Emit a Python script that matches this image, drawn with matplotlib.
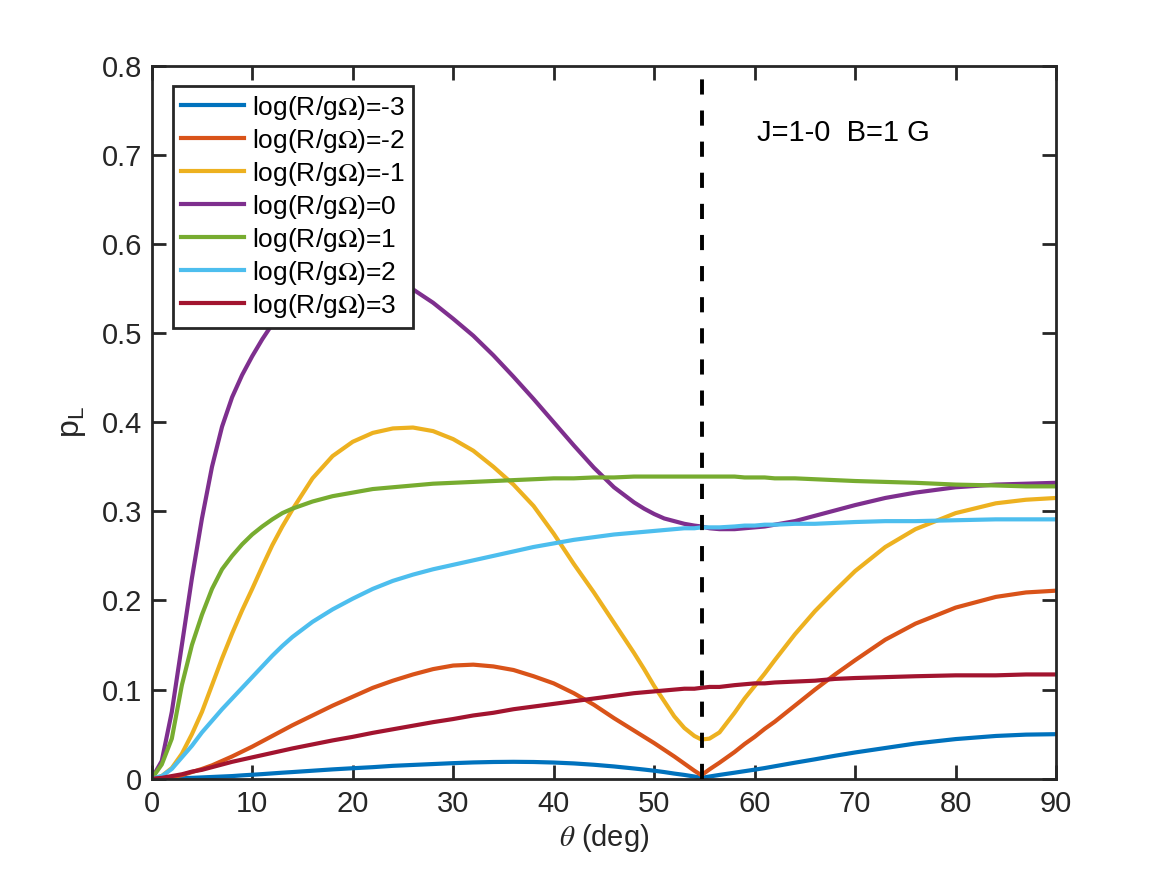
import matplotlib
matplotlib.use("Agg")
import matplotlib.pyplot as plt

plt.rcParams['font.family'] = ['Liberation Sans', 'DejaVu Sans']
plt.rcParams['mathtext.fontset'] = 'stix'

# theta grid (deg)
theta = [0, 1, 2, 3, 4, 5, 6, 7, 8, 9, 10, 11, 12, 13, 14,
         16, 18, 20, 22, 24, 26, 28, 30, 32, 34, 36, 38, 40, 42, 44, 46,
         48, 49, 50, 51, 52, 53, 54, 54.7, 55.5, 56.5, 58, 59, 60, 61, 62,
         64, 66, 68, 70, 73, 76, 80, 84, 87, 90]

p_m3 = [0, 0.0001, 0.0003, 0.0006, 0.001, 0.0015, 0.002, 0.0025, 0.003, 0.0038, 0.0045, 0.0052, 0.006, 0.0068, 0.0075,
        0.009, 0.0105, 0.0118, 0.013, 0.0145, 0.0155, 0.0165, 0.0175, 0.0183, 0.0188, 0.019, 0.0188, 0.0182, 0.0172, 0.0157, 0.0138,
        0.0115, 0.0103, 0.009, 0.0075, 0.0058, 0.0043, 0.0025, 0.001, 0.0025, 0.0043, 0.0068, 0.0085, 0.0102, 0.012, 0.014,
        0.018, 0.0218, 0.0258, 0.0295, 0.0345, 0.0395, 0.0445, 0.048, 0.0495, 0.050]

p_m2 = [0, 0.0005, 0.002, 0.004, 0.0075, 0.011, 0.015, 0.020, 0.025, 0.0305, 0.036, 0.042, 0.048, 0.054, 0.060,
        0.071, 0.082, 0.092, 0.102, 0.110, 0.117, 0.123, 0.127, 0.128, 0.126, 0.122, 0.115, 0.107, 0.096, 0.083, 0.068,
        0.054, 0.047, 0.040, 0.0325, 0.025, 0.017, 0.009, 0.004, 0.0105, 0.018, 0.030, 0.039, 0.047, 0.056, 0.064,
        0.082, 0.100, 0.117, 0.133, 0.156, 0.174, 0.192, 0.204, 0.209, 0.211]

p_m1 = [0, 0.003, 0.012, 0.028, 0.050, 0.075, 0.105, 0.135, 0.163, 0.189, 0.213, 0.238, 0.262, 0.283, 0.302,
        0.337, 0.362, 0.378, 0.388, 0.393, 0.394, 0.390, 0.381, 0.368, 0.350, 0.330, 0.306, 0.275, 0.241, 0.209, 0.175,
        0.141, 0.123, 0.104, 0.087, 0.070, 0.057, 0.048, 0.044, 0.045, 0.052, 0.074, 0.090, 0.104, 0.118, 0.133,
        0.162, 0.188, 0.211, 0.233, 0.260, 0.280, 0.298, 0.309, 0.313, 0.315]

p_0 = [0, 0.02, 0.075, 0.15, 0.225, 0.292, 0.350, 0.395, 0.428, 0.453, 0.474, 0.493, 0.510, 0.525, 0.538,
       0.556, 0.566, 0.570, 0.568, 0.560, 0.549, 0.534, 0.516, 0.497, 0.475, 0.451, 0.426, 0.400, 0.374, 0.349, 0.327,
       0.310, 0.303, 0.297, 0.292, 0.289, 0.286, 0.284, 0.283, 0.281, 0.280, 0.280, 0.281, 0.282, 0.283, 0.285,
       0.289, 0.295, 0.301, 0.307, 0.315, 0.321, 0.327, 0.330, 0.331, 0.332]

p_1 = [0, 0.016, 0.045, 0.105, 0.150, 0.184, 0.213, 0.235, 0.250, 0.263, 0.274, 0.283, 0.291, 0.298, 0.303,
       0.311, 0.317, 0.321, 0.325, 0.327, 0.329, 0.331, 0.332, 0.333, 0.334, 0.335, 0.336, 0.337, 0.337, 0.338, 0.338,
       0.339, 0.339, 0.339, 0.339, 0.339, 0.339, 0.339, 0.339, 0.339, 0.339, 0.339, 0.338, 0.338, 0.338, 0.337,
       0.337, 0.336, 0.335, 0.334, 0.333, 0.332, 0.330, 0.329, 0.328, 0.328]

p_2 = [0, 0.003, 0.011, 0.024, 0.037, 0.052, 0.065, 0.078, 0.090, 0.102, 0.114, 0.126, 0.138, 0.149, 0.159,
       0.176, 0.190, 0.202, 0.213, 0.222, 0.229, 0.235, 0.240, 0.245, 0.250, 0.255, 0.260, 0.264, 0.268, 0.271, 0.274,
       0.276, 0.277, 0.278, 0.279, 0.280, 0.281, 0.281, 0.282, 0.282, 0.282, 0.283, 0.284, 0.284, 0.285, 0.285,
       0.286, 0.286, 0.287, 0.288, 0.289, 0.289, 0.290, 0.291, 0.291, 0.291]

p_3 = [0, 0.001, 0.003, 0.005, 0.008, 0.010, 0.013, 0.016, 0.019, 0.0215, 0.024, 0.0265, 0.029, 0.0315, 0.034,
       0.0385, 0.043, 0.047, 0.0515, 0.0555, 0.0595, 0.0635, 0.067, 0.071, 0.074, 0.078, 0.081, 0.084, 0.087, 0.090, 0.093,
       0.096, 0.097, 0.098, 0.099, 0.100, 0.101, 0.101, 0.102, 0.103, 0.103, 0.105, 0.106, 0.107, 0.107, 0.108,
       0.109, 0.110, 0.112, 0.113, 0.114, 0.115, 0.116, 0.116, 0.117, 0.117]

series = [p_m3, p_m2, p_m1, p_0, p_1, p_2, p_3]
labels = ['log(R/g$\\Omega$)=-3', 'log(R/g$\\Omega$)=-2', 'log(R/g$\\Omega$)=-1',
          'log(R/g$\\Omega$)=0', 'log(R/g$\\Omega$)=1', 'log(R/g$\\Omega$)=2',
          'log(R/g$\\Omega$)=3']
colors = ['#0072BD', '#D95319', '#EDB120', '#7E2F8E', '#77AC30', '#4DBEEE', '#A2142F']
magic = 54.7356

axc = '#262626'
fig = plt.figure(figsize=(11.67, 8.75), dpi=100)
ax = fig.add_axes([0.13, 0.11, 0.775, 0.815])

for y, lab, c in zip(series, labels, colors):
    ax.plot(theta, y, color=c, lw=3.0, label=lab, solid_joinstyle='round')

ax.plot([magic, magic], [0, 0.8], color='k', lw=2.8, dashes=(3.9, 4.1), zorder=5)

ax.set_xlim(0, 90)
ax.set_ylim(0, 0.8)
ax.set_xticks(range(0, 91, 10))
ax.set_yticks([i / 10 for i in range(9)])
ax.set_yticklabels(['0', '0.1', '0.2', '0.3', '0.4', '0.5', '0.6', '0.7', '0.8'])
ax.tick_params(direction='in', length=10, width=2, top=True, right=True,
               labelsize=21, colors=axc)
ax.tick_params(axis='x', pad=8)
ax.tick_params(axis='y', pad=7)
for s in ax.spines.values():
    s.set_linewidth(2)
    s.set_color(axc)

ax.set_xlabel('$\\theta$ (deg)', fontsize=21, color=axc, labelpad=3)
ax.set_ylabel('$\\mathregular{p_L}$', fontsize=23, color=axc, labelpad=10)

ax.text(60.2, 0.724, 'J=1-0  B=1 G', fontsize=21, va='center', color='k')

leg = ax.legend(loc='upper left', bbox_to_anchor=(0.0232, 0.972), borderaxespad=0,
                fontsize=19, handlelength=2.4, handletextpad=0.3, labelspacing=0.19,
                borderpad=0.3, fancybox=False, framealpha=1, edgecolor=axc)
leg.get_frame().set_linewidth(2)

fig.savefig('out.png', dpi=100)
